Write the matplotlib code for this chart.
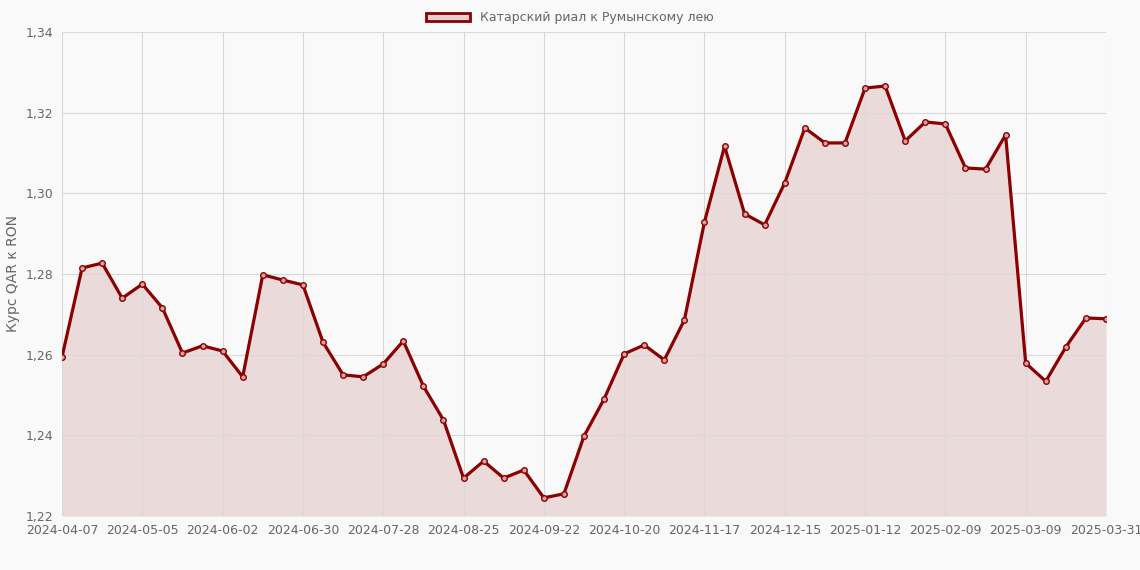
import datetime as dt
import matplotlib
matplotlib.use("Agg")
import matplotlib.pyplot as plt
from matplotlib.patches import Patch

rates = [1.2594, 1.2815, 1.2827, 1.2740, 1.2775, 1.2716, 1.2604, 1.2622, 1.2609, 1.2545,
         1.2798, 1.2785, 1.2773, 1.2631, 1.2550, 1.2545, 1.2577, 1.2634, 1.2522, 1.2438,
         1.2294, 1.2336, 1.2294, 1.2314, 1.2245, 1.2255, 1.2398, 1.2490, 1.2602, 1.2624,
         1.2587, 1.2686, 1.2929, 1.3117, 1.2949, 1.2922, 1.3026, 1.3162, 1.3125, 1.3125,
         1.3261, 1.3266, 1.3130, 1.3177, 1.3172, 1.3063, 1.3060, 1.3145, 1.2579, 1.2534,
         1.2619, 1.2691, 1.2689]
start = dt.date(2024, 4, 7)
dates = [(start + dt.timedelta(weeks=i)).isoformat() for i in range(len(rates))]
dates[-1] = "2025-03-31"
x = list(range(len(rates)))
yticks = [1.22, 1.24, 1.26, 1.28, 1.30, 1.32, 1.34]

fig = plt.figure(figsize=(11.4, 5.7), dpi=100, facecolor="#f9f9f9")
ax = fig.add_axes([62 / 1140, 1 - 516 / 570, (1106 - 62) / 1140, (516 - 32) / 570])
ax.set_facecolor("#f9f9f9")
red = "#8b0000"
ax.fill_between(x, rates, 1.22, color=red, alpha=0.12, lw=0)
ax.plot(x, rates, color=red, lw=2.3, marker="o", ms=4, mfc="#d9a0a0", mec=red, mew=1)
ax.set_xlim(0, len(rates) - 1)
ax.set_ylim(1.22, 1.34)
ticks = sorted(set(list(range(0, len(rates) - 1, 4)) + [len(rates) - 1]))
ax.set_xticks(ticks)
ax.set_xticklabels([dates[t] for t in ticks])
ax.set_yticks(yticks)
ax.set_yticklabels([f"{v:.2f}".replace(".", ",") for v in yticks])
ax.grid(color="#d8d8d8", lw=0.8)
for s in ax.spines.values():
    s.set_visible(False)
ax.tick_params(colors="#666666", labelsize=9, length=0, pad=6)
ax.set_ylabel("Курс QAR к RON", color="#666666", fontsize=10)
fig.legend(handles=[Patch(facecolor="#e8d0d0", edgecolor=red, lw=2,
                          label="Катарский риал к Румынскому лею")],
           loc="upper center", bbox_to_anchor=(0.5, 1.0), frameon=False,
           fontsize=9, labelcolor="#666666", handlelength=3.5)
fig.savefig("out.png", facecolor=fig.get_facecolor())
